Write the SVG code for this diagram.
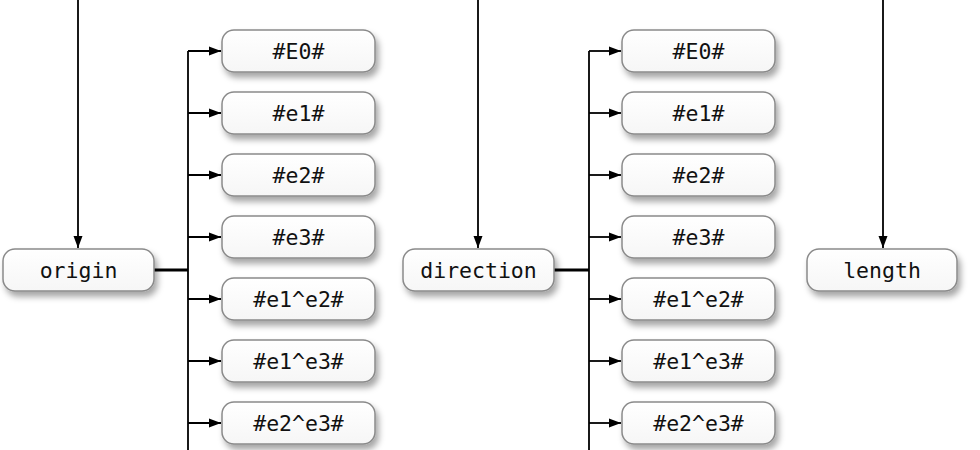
<svg xmlns="http://www.w3.org/2000/svg" width="980" height="450" viewBox="0 0 980 450">
<style>
.box{fill:url(#g);stroke:#8a8a8a;stroke-width:1.5;filter:url(#sh)}
.t{font-family:"DejaVu Sans Mono","Liberation Mono",monospace;font-size:21.5px;fill:#111;text-anchor:middle}
.ln{stroke:#000;stroke-width:1.8;fill:none}
.thick{stroke:#000;stroke-width:3;fill:none}
.ar{stroke:#000;stroke-width:1.8;fill:none;marker-end:url(#ah)}
</style>
<defs>
<linearGradient id="g" x1="0" y1="0" x2="0" y2="1"><stop offset="0" stop-color="#ffffff"/><stop offset="1" stop-color="#f6f6f6"/></linearGradient>
<filter id="sh" x="-20%" y="-30%" width="140%" height="180%"><feDropShadow dx="3" dy="5" stdDeviation="3" flood-color="#000" flood-opacity="0.35"/></filter>
<marker id="ah" markerWidth="13" markerHeight="11" refX="12" refY="5.5" orient="auto" markerUnits="userSpaceOnUse"><path d="M0,1 L12,5.5 L0,10 Z" fill="#000"/></marker>
</defs>
<g id="connectors">
<path class="ar" d="M78,0 V248"/>
<path class="ar" d="M478,0 V248"/>
<path class="ar" d="M883,0 V248"/>
<path class="thick" d="M154,270 H188"/>
<path class="ln" d="M188,51 V450"/>
<path class="ar" d="M188,51 H221"/>
<path class="ar" d="M188,113 H221"/>
<path class="ar" d="M188,175 H221"/>
<path class="ar" d="M188,237 H221"/>
<path class="ar" d="M188,299 H221"/>
<path class="ar" d="M188,361 H221"/>
<path class="ar" d="M188,423 H221"/>
<path class="thick" d="M554,270 H589"/>
<path class="ln" d="M589,51 V450"/>
<path class="ar" d="M589,51 H621"/>
<path class="ar" d="M589,113 H621"/>
<path class="ar" d="M589,175 H621"/>
<path class="ar" d="M589,237 H621"/>
<path class="ar" d="M589,299 H621"/>
<path class="ar" d="M589,361 H621"/>
<path class="ar" d="M589,423 H621"/>
</g>
<g id="origin"><rect class="box" x="3" y="249" width="151" height="42" rx="12"/><text class="t" x="78.5" y="277.5">origin</text></g>
<g id="direction"><rect class="box" x="403" y="249" width="151" height="42" rx="12"/><text class="t" x="478.5" y="277.5">direction</text></g>
<g id="length"><rect class="box" x="807" y="249" width="150" height="42" rx="12"/><text class="t" x="882" y="277.5">length</text></g>
<g id="o-E0"><rect class="box" x="222" y="30" width="153" height="42" rx="12"/><text class="t" x="298.5" y="58.5">#E0#</text></g>
<g id="o-e1"><rect class="box" x="222" y="92" width="153" height="42" rx="12"/><text class="t" x="298.5" y="120.5">#e1#</text></g>
<g id="o-e2"><rect class="box" x="222" y="154" width="153" height="42" rx="12"/><text class="t" x="298.5" y="182.5">#e2#</text></g>
<g id="o-e3"><rect class="box" x="222" y="216" width="153" height="42" rx="12"/><text class="t" x="298.5" y="244.5">#e3#</text></g>
<g id="o-e1e2"><rect class="box" x="222" y="278" width="153" height="42" rx="12"/><text class="t" x="298.5" y="306.5">#e1^e2#</text></g>
<g id="o-e1e3"><rect class="box" x="222" y="340" width="153" height="42" rx="12"/><text class="t" x="298.5" y="368.5">#e1^e3#</text></g>
<g id="o-e2e3"><rect class="box" x="222" y="402" width="153" height="42" rx="12"/><text class="t" x="298.5" y="430.5">#e2^e3#</text></g>
<g id="d-E0"><rect class="box" x="622" y="30" width="153" height="42" rx="12"/><text class="t" x="698.5" y="58.5">#E0#</text></g>
<g id="d-e1"><rect class="box" x="622" y="92" width="153" height="42" rx="12"/><text class="t" x="698.5" y="120.5">#e1#</text></g>
<g id="d-e2"><rect class="box" x="622" y="154" width="153" height="42" rx="12"/><text class="t" x="698.5" y="182.5">#e2#</text></g>
<g id="d-e3"><rect class="box" x="622" y="216" width="153" height="42" rx="12"/><text class="t" x="698.5" y="244.5">#e3#</text></g>
<g id="d-e1e2"><rect class="box" x="622" y="278" width="153" height="42" rx="12"/><text class="t" x="698.5" y="306.5">#e1^e2#</text></g>
<g id="d-e1e3"><rect class="box" x="622" y="340" width="153" height="42" rx="12"/><text class="t" x="698.5" y="368.5">#e1^e3#</text></g>
<g id="d-e2e3"><rect class="box" x="622" y="402" width="153" height="42" rx="12"/><text class="t" x="698.5" y="430.5">#e2^e3#</text></g>
</svg>
